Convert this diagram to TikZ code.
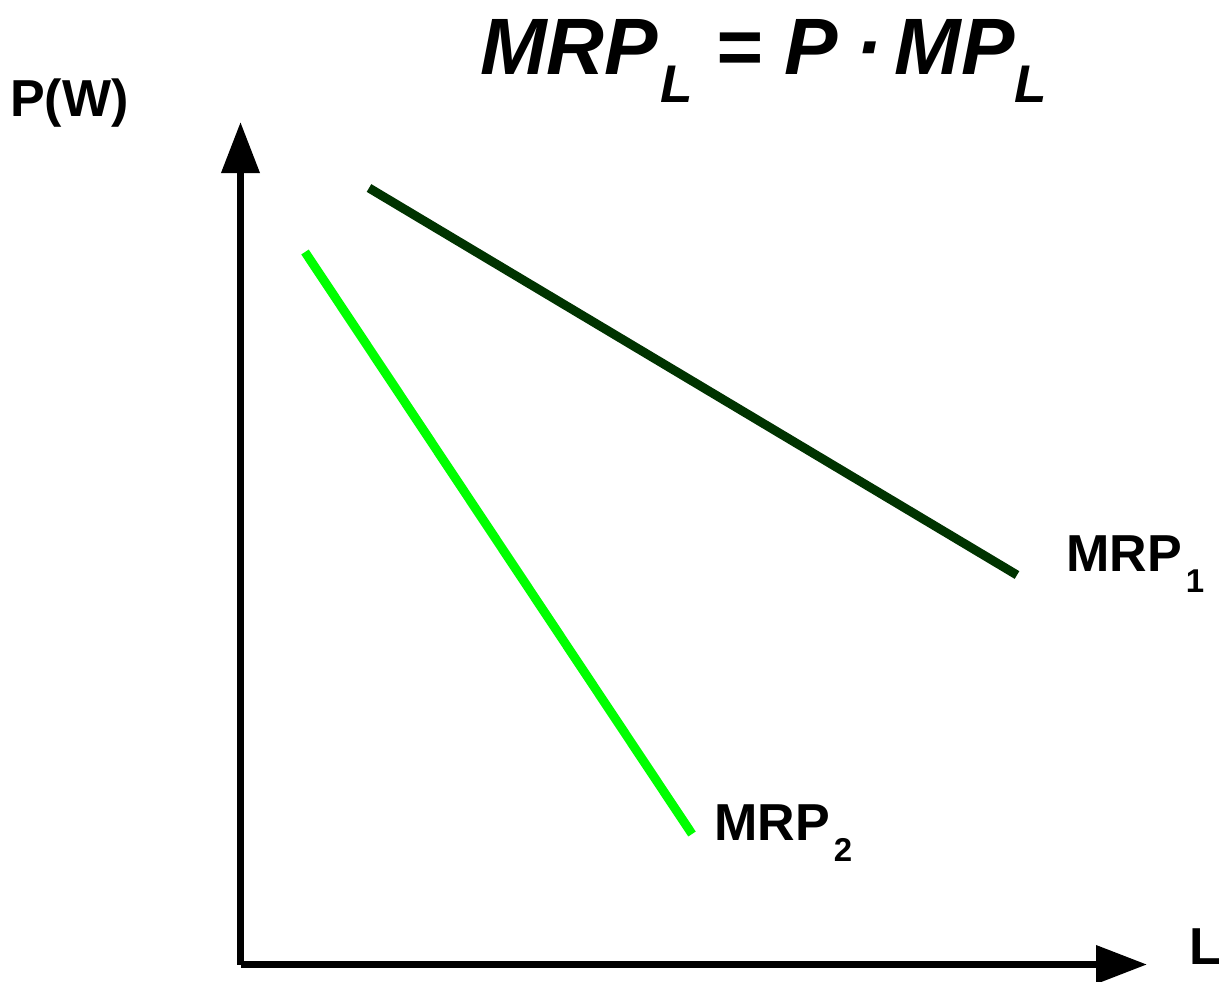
\documentclass[tikz,border=0pt]{standalone}
\usepackage{fontspec}
\setmainfont{Liberation Sans}
\usetikzlibrary{arrows.meta}
\definecolor{darkg}{HTML}{003300}
\definecolor{brightg}{HTML}{00FF00}
\newfontfamily\titlefnt{Liberation Sans}[UprightFont=* Bold Italic]
\newcommand{\subL}[2]{\lower#2pt\hbox{#1}}
\tikzset{
  axis/.style={line width=7pt, -{Triangle[length=51pt,width=37pt]}},
  curve/.style={line width=9pt},
  lbl/.style={inner sep=0pt, anchor=base west, font=\fontsize{52}{60}\selectfont\bfseries},
}
\begin{document}
\begin{tikzpicture}[x=1pt,y=-1pt]
\useasboundingbox (0,0) rectangle (1219,982);
\coordinate (O) at (240.5,964.5);
\coordinate (Ytop) at (240.5,122);
\coordinate (Xend) at (1147,964.5);
\draw[axis] (O) -- (Ytop);
\draw[axis] (O) -- (Xend);
\coordinate (a1) at (369,188);
\coordinate (a2) at (1017,575);
\coordinate (b1) at (305,252);
\coordinate (b2) at (692,834);
\draw[curve, darkg] (a1) -- (a2);
\draw[curve, brightg] (b1) -- (b2);
\node[lbl] (pw) at (10,117) {P(W)};
\node[lbl] (lx) at (1189,964) {L};
\node[lbl] (m1) at (1066,571) {MRP\kern4pt\subL{\fontsize{33}{36}\selectfont 1}{21}};
\node[lbl] (m2) at (714,840) {MRP\kern4pt\subL{\fontsize{33}{36}\selectfont 2}{21}};
\node[inner sep=0pt, anchor=base west] (title) at (480,75)
  {\titlefnt\fontsize{80}{90}\selectfont MRP\kern3pt\subL{\fontsize{53}{60}\selectfont L}{28} = P\kern18pt·\kern12pt MP\subL{\fontsize{53}{60}\selectfont L}{28}};
\end{tikzpicture}
\end{document}
